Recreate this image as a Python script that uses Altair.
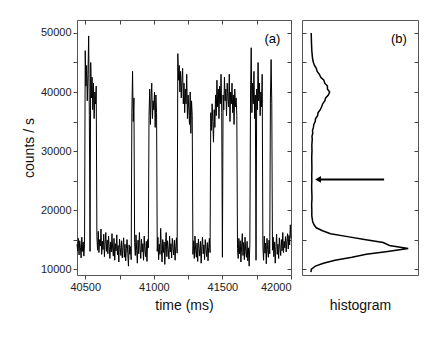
import altair as alt
import pandas as pd

# ---------------- data ----------------
sample_ms = 5
seg_start_ms = [40440, 40500, 40585, 40840, 40860, 40965, 41025, 41175,
                41285, 41415, 41610, 41705, 41795, 41850, 41865]

low0 = [14200, 13100, 15200, 12400, 14800, 13600, 11900, 15400, 13000, 14600, 12200, 14100]
high1 = [47000, 41000, 44500, 38500, 43000, 49500, 36000, 13000, 45000, 39000,
         42500, 37000, 41500, 35500, 40000, 38000, 41000]
low1 = [15500, 13200, 16400, 12800, 15000, 13900, 16800, 12500, 14700, 13300,
        15900, 12100, 14400, 16200, 13000, 14900, 12600, 15600, 13800, 11800,
        14600, 12900, 16000, 13400, 12200, 15200, 11500, 14300, 13100, 15800,
        12400, 14000, 11200, 15100, 13600, 12300, 14800, 11900, 13700, 15300,
        12000, 14200, 11400, 13500, 15000, 12700, 10500, 14100, 12500, 13800, 11600]
high2 = [36500, 43500, 35000, 39000]
low2 = [14500, 12300, 15800, 13100, 11000, 14900, 12600, 16200, 13400, 11800,
        15100, 12900, 14300, 11500, 15600, 13200, 12100, 14700, 11300, 15000, 13600]
high3 = [36000, 40500, 34500, 39000, 41500, 35500, 38500, 37000, 40000, 34000, 39500, 36500]
low3 = [13000, 15400, 11600, 14200, 12500, 16900, 13300, 11200, 15000, 12800,
        14600, 10800, 13900, 16200, 12100, 14800, 13400, 11700, 15600, 12900,
        14300, 11900, 15200, 13600, 12400, 14900, 11500, 13800, 15300, 12700]
high4 = [46500, 42000, 44500, 40000, 43500, 39000, 42000, 44000, 38000, 41500,
         36500, 40500, 38000, 43000, 35500, 39500, 37000, 34500, 40000, 33000,
         38500, 36000]
low4 = [12500, 14800, 11800, 15600, 13200, 12000, 14400, 11300, 15100, 13500,
        12200, 14700, 11000, 13900, 15400, 12600, 14100, 11600, 15000, 13300,
        12100, 14500, 11400, 13700, 15200, 12800]
high5 = [36500, 33500, 38000, 35000, 31500, 37000, 34000, 39500, 36000, 42000,
         37500, 40500, 35500, 41000, 38000, 43000, 36500, 12000, 39500, 37000,
         42500, 38500, 40500, 36000, 41500, 39000, 37500, 43000, 35000, 40000,
         38000, 41500, 36500, 39500, 34500, 40500, 37500, 39000, 36000]
low5 = [13500, 11800, 15200, 12600, 14800, 11200, 13900, 16000, 12300, 14500,
        11600, 15400, 13000, 12000, 14700, 11400, 13600, 10500, 14200]
high6 = [40000, 47500, 36500, 41500, 38000, 43500, 35500, 39500, 11500, 40500,
         37000, 45000, 38500, 41500, 36000, 40000, 37500, 43000]
low6 = [13800, 11500, 15600, 12700, 14400, 10900, 15200, 13300, 12000, 14900, 12600]
high7 = [39000, 45500, 38000]
low7 = [13200, 15400, 12100, 14600, 11000, 13800, 15900, 12500, 14200, 11800,
        15300, 13500, 12300, 15000, 13100, 16200, 12800, 14700, 13600, 15500,
        12900, 14800, 16000, 13400, 15700, 14100, 17500, 15200]
seg_counts = [low0, high1, low1, high2, low2, high3, low3, high4,
              low4, high5, low5, high6, low6, high7, low7]

# histogram (counts/s bin centre, relative frequency)
hist_cps = [9500, 10000, 10500, 11000, 11500, 12000, 12500, 13000, 13500, 14000,
            14500, 15000, 15500, 16000, 16500, 17000, 17500, 18000, 18500, 19000,
            20000, 21000, 22000, 23000, 24000, 25000, 26000, 27000, 28000, 29000,
            30000, 31000, 32000, 32500, 33000, 33500, 34000, 34500, 35000, 35500,
            36000, 36500, 37000, 37500, 38000, 38500, 39000, 39500, 40000, 40500,
            41000, 41500, 42000, 42500, 43000, 43500, 44000, 44500, 45000, 45500,
            46000, 47000, 48000, 49000, 50000]
hist_freq = [0, 0.5, 5, 14, 27, 46, 62, 86, 109, 88,
             81, 60, 41, 22, 13, 6, 3.5, 2, 1.5, 1,
             1, 0.8, 1.2, 1, 0.8, 1, 0.9, 1.1, 1, 0.9,
             1.2, 1, 1.5, 1.2, 2, 1.8, 2.8, 3.2, 4.8, 5.2,
             7.5, 8, 10.5, 12, 13.2, 15.5, 16.5, 19.5, 21, 18.5,
             18.5, 15.5, 14.5, 11, 9.5, 7, 6, 4, 2.8, 2,
             1.6, 1, 0.7, 0.5, 0.3]

arrow_cps = [25200]
arrow_from = [82]
arrow_to = [8]

x_ticks = [40500, 40750, 41000, 41250, 41500, 41750, 42000]
y_ticks = [10000, 15000, 20000, 25000, 30000, 35000, 40000, 45000, 50000]
y_domain = [9000, 52200]
x_domain = [40440, 42000]

# ---------------- frames ----------------
rows = []
for start, vals in zip(seg_start_ms, seg_counts):
    for i, v in enumerate(vals):
        rows.append({"t": start + i * sample_ms, "cps": v})
ts = pd.DataFrame(rows)
hist = pd.DataFrame({"cps": hist_cps, "freq": hist_freq})
arrow = pd.DataFrame({"cps": arrow_cps, "x1": arrow_from, "x2": arrow_to})

FONT = "Liberation Sans"
AX = "#444444"

xs = alt.Scale(domain=x_domain, nice=False, zero=False)
ys = alt.Scale(domain=y_domain, nice=False, zero=False)

label_expr = "datum.value % 10000 == 0 ? format(datum.value, 'd') : ''"
xlabel_expr = "datum.value % 500 == 0 ? format(datum.value, 'd') : ''"

main_line = alt.Chart(ts).mark_line(color="black", strokeWidth=1).encode(
    x=alt.X("t:Q", scale=xs,
            axis=alt.Axis(values=x_ticks, labelExpr=xlabel_expr, title="time (ms)",
                          tickSize=4, labelPadding=2, titlePadding=6, domain=False,
                          grid=False)),
    y=alt.Y("cps:Q", scale=ys,
            axis=alt.Axis(values=y_ticks, labelExpr=label_expr, title="counts / s",
                          tickSize=4, labelPadding=2, titlePadding=4, domain=False,
                          grid=False)),
    order="t:Q",
)
mirror = alt.Chart(ts).mark_line(opacity=0).encode(
    x=alt.X("t:Q", scale=xs,
            axis=alt.Axis(orient="top", values=x_ticks, labels=False, title=None,
                          tickSize=4, offset=-4, domain=False, grid=False)),
    y=alt.Y("cps:Q", scale=ys,
            axis=alt.Axis(orient="right", values=y_ticks, labels=False, title=None,
                          tickSize=4, offset=-4, domain=False, grid=False)),
)
label_a = alt.Chart(pd.DataFrame({"t": [41865], "cps": [49000], "s": ["(a)"]})).mark_text(
    fontSize=13, font=FONT, color="black").encode(
    x=alt.X("t:Q", scale=xs, axis=None), y=alt.Y("cps:Q", scale=ys, axis=None), text="s:N")

left = alt.layer(main_line, mirror, label_a).resolve_axis(
    x="independent", y="independent").properties(width=214, height=255)

hs = alt.Scale(domain=[-10, 120], nice=False, zero=False)
hist_line = alt.Chart(hist).mark_line(color="black", strokeWidth=1.5).encode(
    x=alt.X("freq:Q", scale=hs,
            axis=alt.Axis(title="histogram", labels=False, ticks=False, domain=False,
                          grid=False, titlePadding=23)),
    y=alt.Y("cps:Q", scale=ys,
            axis=alt.Axis(values=y_ticks, labels=False, title=None, tickSize=4,
                          offset=-4, domain=False, grid=False)),
    order="cps:Q",
)
hist_mirror = alt.Chart(hist).mark_line(opacity=0).encode(
    x=alt.X("freq:Q", scale=hs, axis=None),
    y=alt.Y("cps:Q", scale=ys,
            axis=alt.Axis(orient="right", values=y_ticks, labels=False, title=None,
                          tickSize=4, offset=-4, domain=False, grid=False)),
)
arrow_rule = alt.Chart(arrow).mark_rule(color="black", strokeWidth=2).encode(
    x=alt.X("x1:Q", scale=hs, axis=None), x2="x2:Q",
    y=alt.Y("cps:Q", scale=ys, axis=None))
arrow_head = alt.Chart(arrow).mark_point(shape="triangle-left", filled=True,
                                         color="black", size=45, opacity=1).encode(
    x=alt.X("x2:Q", scale=hs, axis=None), y=alt.Y("cps:Q", scale=ys, axis=None))
label_b = alt.Chart(pd.DataFrame({"f": [98.5], "cps": [49000], "s": ["(b)"]})).mark_text(
    fontSize=13, font=FONT, color="black").encode(
    x=alt.X("f:Q", scale=hs, axis=None), y=alt.Y("cps:Q", scale=ys, axis=None), text="s:N")

right = alt.layer(hist_line, hist_mirror, arrow_rule, arrow_head, label_b).resolve_axis(
    x="independent", y="independent").properties(width=116, height=255)

chart = alt.hconcat(left, right, spacing=7).properties(
    padding={"left": 13, "top": 11, "right": 5, "bottom": 5},
    background="white",
).configure_view(stroke="#555555", strokeWidth=1).configure_axis(
    labelFont=FONT, titleFont=FONT, labelFontSize=11, titleFontSize=14,
    titleFontWeight="normal", labelColor="#222222", titleColor="#111111",
    tickColor=AX, domainColor=AX,
)

chart.save("out.html", embed_options={"renderer": "svg", "actions": False})
